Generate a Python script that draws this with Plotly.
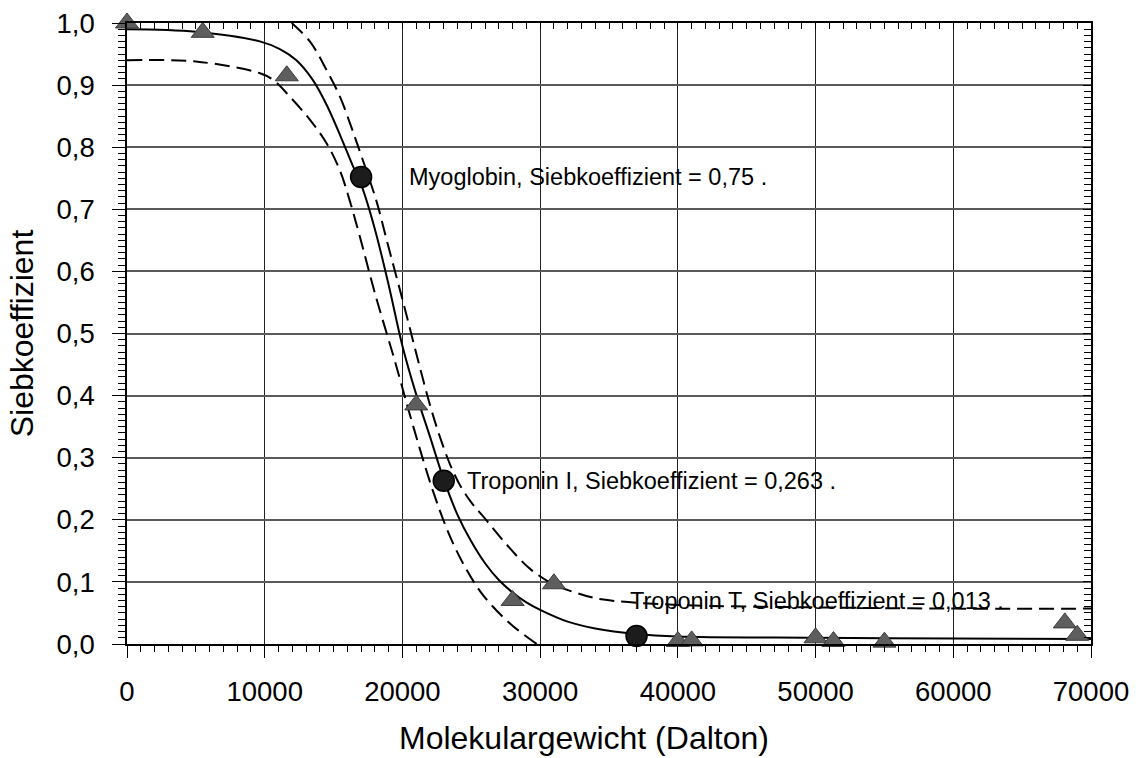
import plotly.graph_objects as go

# ---- data ----
tri_x = [0, 5500, 11600, 21000, 28000, 31000, 40000, 41000, 50000, 51300, 55000, 68100, 69000]
tri_y = [1.0, 0.985, 0.915, 0.385, 0.07, 0.097, 0.004, 0.005, 0.01, 0.004, 0.003, 0.034, 0.014]

pt_x = [17000, 23000, 37000]
pt_y = [0.752, 0.263, 0.013]
pt_labels = ["Myoglobin, Siebkoeffizient = 0,75 .",
             "Troponin I, Siebkoeffizient = 0,263 .",
             "Troponin T, Siebkoeffizient = 0,013 ."]
label_x = [20300, 24550, 36350]
label_y = [0.752, 0.262, 0.069]

fit_x = [0, 5000, 9700, 11100, 12300, 13500, 14500, 15500, 16400, 17000, 18000, 19000,
         20000, 21000, 22000, 23000, 24000, 25000, 26000, 27000, 28000, 29000, 30000,
         32000, 34000, 37000, 40000, 50000, 60000, 70000]
fit_y = [0.990, 0.986, 0.970, 0.958, 0.940, 0.908, 0.868, 0.818, 0.770, 0.740, 0.668, 0.578,
         0.480, 0.402, 0.334, 0.265, 0.208, 0.165, 0.130, 0.103, 0.083, 0.067, 0.055,
         0.036, 0.025, 0.016, 0.012, 0.010, 0.009, 0.008]

upper_x = [11960, 13290, 14500, 15470, 16200, 16800, 18130, 18860, 20000, 21040, 22000, 22700,
           23500, 24200, 25000, 25880, 27570, 29270, 30900, 32660, 34450, 40000, 50000, 60000, 70000]
upper_y = [1.0, 0.970, 0.924, 0.881, 0.838, 0.800, 0.712, 0.650, 0.555, 0.465, 0.385, 0.335,
           0.287, 0.255, 0.228, 0.205, 0.160, 0.121, 0.097, 0.082, 0.072, 0.063, 0.059, 0.057, 0.057]

lower_x = [0, 5000, 9660, 10630, 11840, 13290, 14500, 15470, 16200, 16920, 18000, 19460,
           20790, 22240, 23460, 24670, 25880, 27810, 29750]
lower_y = [0.940, 0.938, 0.919, 0.908, 0.881, 0.844, 0.806, 0.762, 0.712, 0.655, 0.565, 0.455,
           0.350, 0.245, 0.173, 0.119, 0.078, 0.033, 0.0]

x_ticks = [0, 10000, 20000, 30000, 40000, 50000, 60000, 70000]
y_ticks = [0.0, 0.1, 0.2, 0.3, 0.4, 0.5, 0.6, 0.7, 0.8, 0.9, 1.0]

x_title = "Molekulargewicht (Dalton)"
y_title = "Siebkoeffizient"

FONT = "Arial, 'Liberation Sans', sans-serif"
DASH = "15px,7px"

fig = go.Figure()

for xs, ys, dash in ((lower_x, lower_y, DASH), (upper_x, upper_y, DASH), (fit_x, fit_y, "solid")):
    fig.add_trace(go.Scatter(x=xs, y=ys, mode="lines",
                             line=dict(color="black", width=2, dash=dash, shape="spline", smoothing=1.0),
                             hoverinfo="skip", cliponaxis=True))

fig.add_trace(go.Scatter(x=tri_x, y=tri_y, mode="markers", cliponaxis=False,
                         marker=dict(symbol="triangle-up", size=20, color="#5e5e5e",
                                     line=dict(color="#3c3c3c", width=1))))
fig.add_trace(go.Scatter(x=pt_x, y=pt_y, mode="markers", cliponaxis=False,
                         marker=dict(symbol="circle", size=21, color="#1c1c1c",
                                     line=dict(color="black", width=1.5))))

# overlay axes for inside ticks on top/right
fig.add_trace(go.Scatter(x=[], y=[], xaxis="x2", yaxis="y2", showlegend=False))

for tx, ty, tl in zip(label_x, label_y, pt_labels):
    fig.add_annotation(x=tx, y=ty, text=tl, showarrow=False, xanchor="left", yanchor="middle",
                       font=dict(family=FONT, size=23.5, color="black"))

# x-axis title (placed slightly left of centre, as in the reference)
fig.add_annotation(x=0.474, y=-0.152, xref="paper", yref="paper", text=x_title,
                   showarrow=False, xanchor="center", yanchor="middle",
                   font=dict(family=FONT, size=32, color="black"))

fig.update_layout(
    width=1138, height=758,
    margin=dict(l=127, r=47, t=23, b=114, autoexpand=False),
    paper_bgcolor="white", plot_bgcolor="white",
    showlegend=False,
    separators=",.",
    font=dict(family=FONT, color="black"),
    xaxis=dict(range=[0, 70000], tickvals=x_ticks, tickformat="d",
               showgrid=True, gridcolor="#222222", gridwidth=1,
               showline=True, linecolor="black", linewidth=1.5, mirror=True,
               ticks="outside", ticklen=12, tickwidth=1.2, tickcolor="black",
               minor=dict(dtick=1000, ticks="outside", ticklen=6, tickwidth=1, tickcolor="black", showgrid=False),
               tickfont=dict(size=27.5), ticklabelstandoff=10,
               zeroline=False, fixedrange=True),
    yaxis=dict(range=[0, 1.0], tickvals=y_ticks, tickformat=".1f",
               showgrid=True, gridcolor="#5a5a5a", gridwidth=1.5,
               showline=True, linecolor="black", linewidth=1.5, mirror=True,
               ticks="outside", ticklen=13, tickwidth=1.2, tickcolor="black",
               minor=dict(dtick=0.01, ticks="outside", ticklen=7, tickwidth=1, tickcolor="black", showgrid=False),
               tickfont=dict(size=27.5), ticklabelstandoff=12,
               zeroline=False, fixedrange=True,
               title=dict(text=y_title, font=dict(size=32), standoff=13)),
    xaxis2=dict(overlaying="x", side="top", range=[0, 70000], showticklabels=False,
                showgrid=False, zeroline=False, showline=False,
                tickvals=x_ticks, ticks="inside", ticklen=6, tickcolor="black",
                minor=dict(dtick=1000, ticks="inside", ticklen=6, tickcolor="black", showgrid=False)),
    yaxis2=dict(overlaying="y", side="right", range=[0, 1.0], showticklabels=False,
                showgrid=False, zeroline=False, showline=False,
                tickvals=y_ticks, ticks="inside", ticklen=8, tickcolor="black",
                minor=dict(dtick=0.01, ticks="inside", ticklen=7, tickcolor="black", showgrid=False)),
)

fig.write_html("out.html", config={"displayModeBar": False},
               post_script="document.body.style.margin='0';document.body.style.overflow='hidden';")
